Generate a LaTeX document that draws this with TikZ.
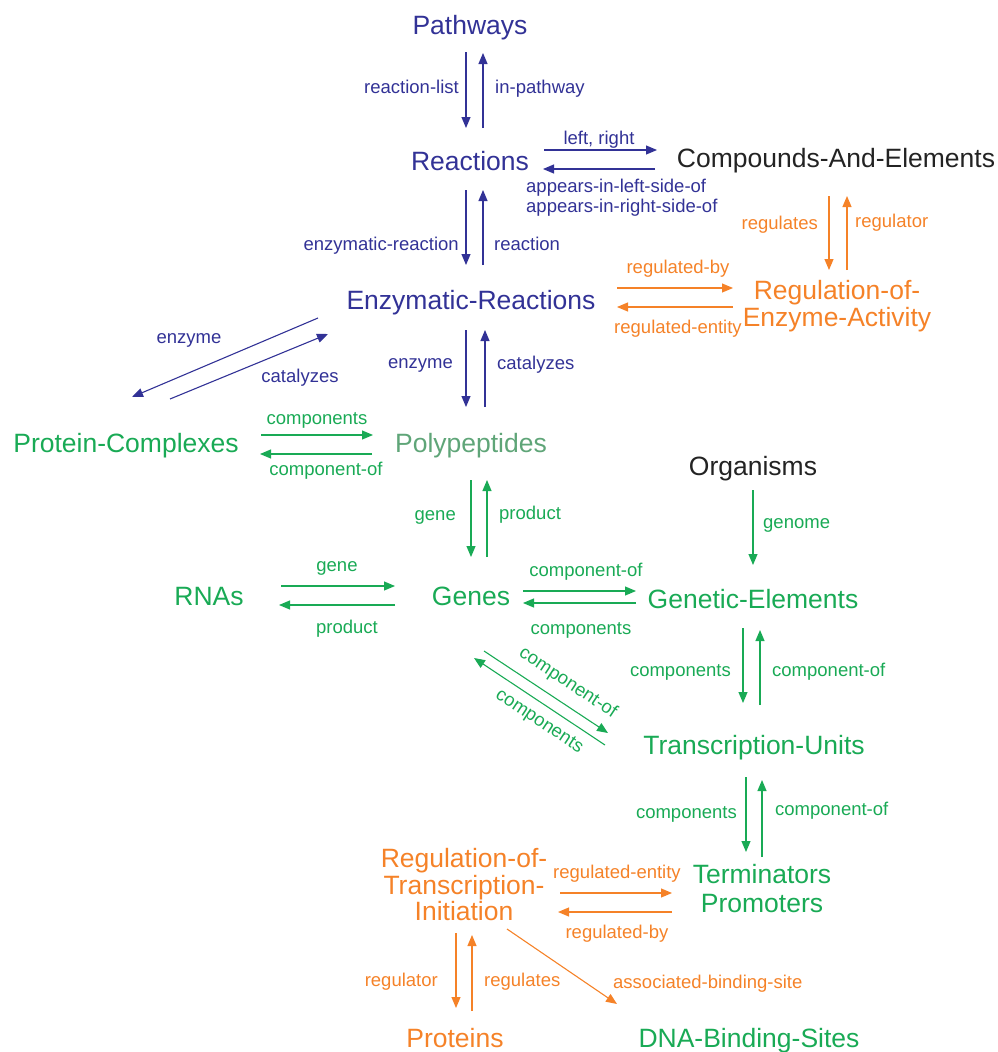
\documentclass[tikz,border=0pt]{standalone}
\usepackage{fontspec}
\setmainfont{Liberation Sans}
\usetikzlibrary{arrows.meta,calc}
\definecolor{pwblue}{RGB}{50,50,150}
\definecolor{regorange}{RGB}{245,130,40}
\definecolor{seqgreen}{RGB}{25,170,85}
\definecolor{polygreen}{RGB}{95,165,120}
\definecolor{plainblack}{RGB}{35,35,35}
\begin{document}
\begin{tikzpicture}[x=1pt,y=-1pt,
  cls/.style={inner sep=0pt, anchor=base, font=\fontsize{26.5}{28}\selectfont},
  mcls/.style={inner sep=0pt, align=center},
  lbl/.style={inner sep=0pt, font=\fontsize{18.5}{20}\selectfont},
  rel/.style={line width=1.1pt, -{Triangle[length=11pt,width=9pt]}},
  blueline/.style={rel, pwblue},
  orangeline/.style={rel, regorange},
  greenline/.style={rel, seqgreen},
]
\useasboundingbox (0,0) rectangle (998,1052);

% ---------- classes ----------
\node[cls, pwblue] (path) at (470,34) {Pathways};
\node[cls, pwblue] (reac) at (470,170) {Reactions};
\node[cls, plainblack] (comp) at (836,167) {Compounds-And-Elements};
\node[cls, pwblue] (enz) at (471,309) {Enzymatic-Reactions};
\node[mcls, regorange, font=\fontsize{26.5}{27}\selectfont] (rege) at (837,306) {Regulation-of-\\Enzyme-Activity};
\node[cls, seqgreen] (pc) at (126,452) {Protein-Complexes};
\node[cls, polygreen] (poly) at (471,452) {Polypeptides};
\node[cls, plainblack] (org) at (753,475) {Organisms};
\node[cls, seqgreen] (rna) at (209,605) {RNAs};
\node[cls, seqgreen] (genes) at (471,605) {Genes};
\node[cls, seqgreen] (ge) at (753,608) {Genetic-Elements};
\node[cls, seqgreen] (tu) at (754,754) {Transcription-Units};
\node[mcls, seqgreen, font=\fontsize{26.5}{29}\selectfont] (tp) at (762,889) {Terminators\\Promoters};
\node[mcls, regorange, font=\fontsize{26.5}{26.5}\selectfont] (regt) at (464,885) {Regulation-of-\\Transcription-\\Initiation};
\node[cls, regorange] (prot) at (455,1047) {Proteins};
\node[cls, seqgreen] (dna) at (749,1047) {DNA-Binding-Sites};

% ---------- metabolic relations ----------
\draw[blueline] ($(path.base)+(-4,18)$) -- ($(reac.base)+(-4,-42)$);
\draw[blueline] ($(reac.base)+(13,-42)$) -- ($(path.base)+(13,19)$);
\node[lbl, pwblue, anchor=base east] (l1) at (459,93) {reaction-list};
\node[lbl, pwblue, anchor=base west] (l2) at (495,93) {in-pathway};

\draw[blueline] ($(reac.base)+(74,-20)$) -- ($(comp.base)+(-179,-17)$);
\draw[blueline] ($(comp.base)+(-181,2)$) -- ($(reac.base)+(73,-1)$);
\node[lbl, pwblue, anchor=base] (l3) at (599,144) {left, right};
\node[lbl, pwblue, anchor=base west] (l4) at (526,192) {appears-in-left-side-of};
\node[lbl, pwblue, anchor=base west] (l5) at (526,212) {appears-in-right-side-of};

\draw[blueline] ($(reac.base)+(-4,20)$) -- ($(enz.base)+(-5,-44)$);
\draw[blueline] ($(enz.base)+(12,-44)$) -- ($(reac.base)+(13,20)$);
\node[lbl, pwblue, anchor=base east] (l6) at (459,250) {enzymatic-reaction};
\node[lbl, pwblue, anchor=base west] (l7) at (494,250) {reaction};

% ---------- enzyme regulation ----------
\draw[orangeline] ($(enz.base)+(146,-21)$) -- ($(rege.center)+(-104,-18)$);
\draw[orangeline] ($(rege.center)+(-104,1)$) -- ($(enz.base)+(146,-2)$);
\node[lbl, regorange, anchor=base] (l8) at (678,273) {regulated-by};
\node[lbl, regorange, anchor=base] (l9) at (678,333) {regulated-entity};

\draw[orangeline] ($(comp.base)+(-7,29)$) -- ($(rege.center)+(-8,-36)$);
\draw[orangeline] ($(rege.center)+(10,-36)$) -- ($(comp.base)+(11,29)$);
\node[lbl, regorange, anchor=base east] (l10) at (818,229) {regulates};
\node[lbl, regorange, anchor=base west] (l11) at (855,227) {regulator};

% ---------- catalysis ----------
\draw[blueline] ($(enz.base)+(-153,9)$) -- ($(pc.base)+(6,-55)$);
\draw[blueline] ($(pc.base)+(44,-53)$) -- ($(enz.base)+(-143,25)$);
\node[lbl, pwblue, anchor=base] (l12) at (189,343) {enzyme};
\node[lbl, pwblue, anchor=base] (l13) at (300,382) {catalyzes};

\draw[blueline] ($(enz.base)+(-5,21)$) -- ($(poly.base)+(-5,-45)$);
\draw[blueline] ($(poly.base)+(14,-45)$) -- ($(enz.base)+(14,21)$);
\node[lbl, pwblue, anchor=base east] (l14) at (453,368) {enzyme};
\node[lbl, pwblue, anchor=base west] (l15) at (497,369) {catalyzes};

% ---------- complexes and genes ----------
\draw[greenline] ($(pc.base)+(135,-17)$) -- ($(poly.base)+(-98,-17)$);
\draw[greenline] ($(poly.base)+(-99,2)$) -- ($(pc.base)+(134,2)$);
\node[lbl, seqgreen, anchor=base] (l16) at (317,424) {components};
\node[lbl, seqgreen, anchor=base] (l17) at (326,475) {component-of};

\draw[greenline] ($(poly.base)+(0,28)$) -- ($(genes.base)+(0,-48)$);
\draw[greenline] ($(genes.base)+(16,-48)$) -- ($(poly.base)+(16,28)$);
\node[lbl, seqgreen, anchor=base east] (l18) at (456,520) {gene};
\node[lbl, seqgreen, anchor=base west] (l19) at (499,519) {product};

\draw[greenline] ($(rna.base)+(72,-19)$) -- ($(genes.base)+(-76,-19)$);
\draw[greenline] ($(genes.base)+(-76,0)$) -- ($(rna.base)+(70,0)$);
\node[lbl, seqgreen, anchor=base] (l20) at (337,571) {gene};
\node[lbl, seqgreen, anchor=base] (l21) at (347,633) {product};

\draw[greenline] ($(genes.base)+(52,-14)$) -- ($(ge.base)+(-117,-17)$);
\draw[greenline] ($(ge.base)+(-117,-5)$) -- ($(genes.base)+(52,-2)$);
\node[lbl, seqgreen, anchor=base] (l22) at (586,576) {component-of};
\node[lbl, seqgreen, anchor=base] (l23) at (581,634) {components};

\draw[greenline] ($(org.base)+(0,15)$) -- ($(ge.base)+(0,-43)$);
\node[lbl, seqgreen, anchor=base west] (l24) at (763,528) {genome};

\draw[greenline] ($(ge.base)+(-10,20)$) -- ($(tu.base)+(-11,-51)$);
\draw[greenline] ($(tu.base)+(6,-49)$) -- ($(ge.base)+(7,22)$);
\node[lbl, seqgreen, anchor=base east] (l25) at (731,676) {components};
\node[lbl, seqgreen, anchor=base west] (l26) at (772,676) {component-of};

\draw[greenline] ($(genes.base)+(13,46)$) -- ($(tu.base)+(-146,-21)$);
\draw[greenline] ($(tu.base)+(-149,-9)$) -- ($(genes.base)+(3,53)$);
\node[lbl, seqgreen, rotate=-33.5] (l27) at (568,683) {component-of};
\node[lbl, seqgreen, rotate=-33.5] (l28) at (539,722) {components};

\draw[greenline] ($(tu.base)+(-8,23)$) -- ($(tp.center)+(-16,-37)$);
\draw[greenline] ($(tp.center)+(0,-32)$) -- ($(tu.base)+(8,26)$);
\node[lbl, seqgreen, anchor=base east] (l29) at (737,818) {components};
\node[lbl, seqgreen, anchor=base west] (l30) at (775,815) {component-of};

% ---------- transcription regulation ----------
\draw[orangeline] ($(regt.center)+(96,8)$) -- ($(tp.center)+(-90,4)$);
\draw[orangeline] ($(tp.center)+(-90,23)$) -- ($(regt.center)+(94,27)$);
\node[lbl, regorange, anchor=base] (l31) at (617,878) {regulated-entity};
\node[lbl, regorange, anchor=base] (l32) at (617,938) {regulated-by};

\draw[orangeline] ($(regt.center)+(-8,48)$) -- ($(prot.base)+(1,-39)$);
\draw[orangeline] ($(prot.base)+(17,-36)$) -- ($(regt.center)+(8,50)$);
\node[lbl, regorange, anchor=base east] (l33) at (438,986) {regulator};
\node[lbl, regorange, anchor=base west] (l34) at (484,986) {regulates};

\draw[orangeline] ($(regt.center)+(43,44)$) -- ($(dna.base)+(-132,-43)$);
\node[lbl, regorange, anchor=base west] (l35) at (613,988) {associated-binding-site};
\end{tikzpicture}
\end{document}
